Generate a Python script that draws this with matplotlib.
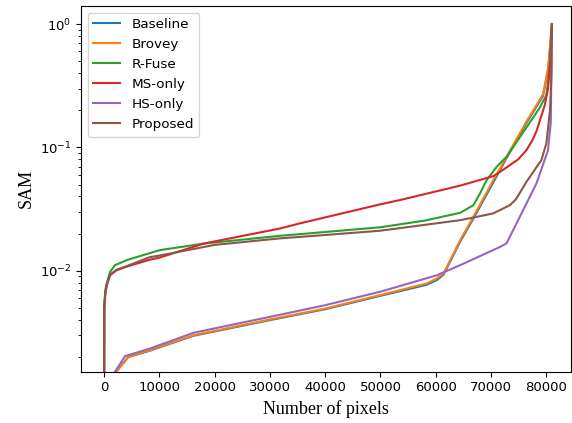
import matplotlib
matplotlib.use("Agg")
import matplotlib.pyplot as plt

# ---- data ----
x_baseline = [0, 4400, 8300, 16150, 30000, 40000, 49900, 58350, 60200, 61400, 64400, 66800, 70400, 72800, 76400, 79400, 80350, 81000]
baseline   = [1.15e-3, 2.0e-3, 2.25e-3, 2.97e-3, 3.98e-3, 4.88e-3, 6.25e-3, 7.7e-3, 8.4e-3, 9.3e-3, 0.0172, 0.0265, 0.0520, 0.082, 0.158, 0.262, 0.44, 1.0]

x_brovey = [0, 4400, 8300, 16150, 30000, 40000, 49900, 58350, 60200, 61400, 64400, 66800, 70400, 72800, 76400, 79400, 80350, 81000]
brovey   = [1.15e-3, 2.0e-3, 2.27e-3, 3.0e-3, 4.03e-3, 4.94e-3, 6.34e-3, 7.89e-3, 8.66e-3, 9.5e-3, 0.0177, 0.0274, 0.0543, 0.084, 0.162, 0.27, 0.45, 1.0]

x_rfuse = [0, 60, 250, 500, 1100, 2000, 4100, 10100, 18000, 31800, 35400, 49900, 58000, 64400, 66800, 68000, 69200, 71000, 72800, 76400, 78800, 80000, 80600, 81000]
rfuse   = [1e-4, 5.5e-3, 7.0e-3, 7.9e-3, 9.8e-3, 0.0111, 0.0122, 0.0147, 0.0166, 0.0192, 0.0198, 0.0225, 0.0255, 0.0295, 0.034, 0.0424, 0.0543, 0.0696, 0.084, 0.145, 0.21, 0.265, 0.45, 1.0]

x_msonly = [0, 60, 250, 500, 1100, 2300, 4100, 8300, 10100, 18000, 31800, 35400, 49900, 53600, 64400, 68000, 70400, 72000, 74900, 76400, 77500, 78200, 79700, 80300, 80700, 80900, 81000]
msonly   = [1e-4, 5e-3, 6.5e-3, 7.6e-3, 9.2e-3, 0.0101, 0.0108, 0.0123, 0.0128, 0.0166, 0.0220, 0.0242, 0.0345, 0.0375, 0.049, 0.0545, 0.0585, 0.065, 0.080, 0.095, 0.115, 0.135, 0.22, 0.30, 0.5, 0.75, 1.0]

x_hsonly = [0, 3800, 8300, 16150, 30000, 40000, 49900, 60200, 64400, 71600, 72800, 75200, 78200, 80300, 80800, 81000]
hsonly   = [1.1e-3, 2.03e-3, 2.34e-3, 3.14e-3, 4.23e-3, 5.26e-3, 6.75e-3, 9.2e-3, 0.0111, 0.0156, 0.0167, 0.0274, 0.051, 0.095, 0.16, 1.0]

x_proposed = [0, 60, 250, 500, 1100, 2300, 4100, 8300, 10100, 20000, 31800, 35400, 49900, 64400, 68000, 70400, 73400, 74500, 76400, 79100, 80000, 80650, 80900, 81000]
proposed   = [1e-4, 5e-3, 6.7e-3, 7.7e-3, 9.3e-3, 0.0102, 0.0109, 0.0129, 0.0133, 0.0162, 0.0183, 0.0188, 0.0211, 0.0257, 0.0277, 0.0292, 0.034, 0.038, 0.0526, 0.079, 0.108, 0.2, 0.374, 1.0]

series = [
    ("Baseline", x_baseline, baseline, "#1f77b4"),
    ("Brovey", x_brovey, brovey, "#ff7f0e"),
    ("R-Fuse", x_rfuse, rfuse, "#2ca02c"),
    ("MS-only", x_msonly, msonly, "#d62728"),
    ("HS-only", x_hsonly, hsonly, "#9467bd"),
    ("Proposed", x_proposed, proposed, "#8c564b"),
]

fig = plt.figure(figsize=(5.72, 4.23), dpi=100)
ax = fig.add_axes([81.3 / 572, 1 - 371.7 / 423, (571 - 81.3) / 572, (371.7 - 6) / 423])

for name, xs, ys, c in series:
    ax.plot(xs, ys, color=c, lw=1.5, label=name)

ax.set_yscale("log")
ax.set_xlim(-4100, 84450)
ax.set_ylim(1.52e-3, 1.40)
ax.set_xticks([0, 10000, 20000, 30000, 40000, 50000, 60000, 70000, 80000])
ax.tick_params(labelsize=9.5)

ax.set_xlabel("Number of pixels", family="Liberation Serif", fontsize=13)
ax.set_ylabel("SAM", family="Liberation Serif", fontsize=13)

ax.legend(loc="upper left", fontsize=9.7, labelspacing=0.52)

fig.savefig("out.png", dpi=100)
